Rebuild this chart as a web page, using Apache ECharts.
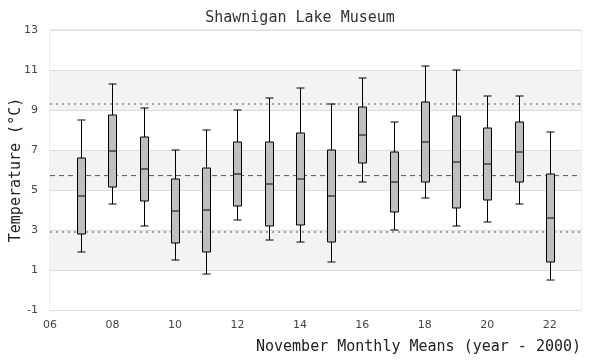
<!DOCTYPE html>
<html>
<head>
<meta charset="utf-8">
<script src="https://cdn.jsdelivr.net/npm/echarts@6/dist/echarts.min.js"></script>
<style>html,body{margin:0;padding:0;background:#fff}#c{width:600px;height:360px}</style>
</head>
<body>
<div id="c"></div>
<script>
// November monthly means, year - 2000
var years   = [7, 8, 9, 10, 11, 12, 13, 14, 15, 16, 17, 18, 19, 20, 21, 22];
var lows    = [1.9, 4.3, 3.2, 1.5, 0.8, 3.5, 2.5, 2.4, 1.4, 5.4, 3.0, 4.6, 3.2, 3.4, 4.3, 0.5];
var q1s     = [2.8, 5.15, 4.45, 2.35, 1.9, 4.2, 3.2, 3.25, 2.4, 6.35, 3.9, 5.4, 4.1, 4.5, 5.4, 1.4];
var medians = [4.7, 6.95, 6.05, 3.95, 4.0, 5.8, 5.3, 5.55, 4.7, 7.75, 5.4, 7.4, 6.4, 6.3, 6.9, 3.6];
var q3s     = [6.6, 8.75, 7.65, 5.55, 6.1, 7.4, 7.4, 7.85, 7.0, 9.15, 6.9, 9.4, 8.7, 8.1, 8.4, 5.8];
var highs   = [8.5, 10.3, 9.1, 7.0, 8.0, 9.0, 9.6, 10.1, 9.3, 10.6, 8.4, 11.2, 11.0, 9.7, 9.7, 7.9];
var meanLine = 5.72;
var upperLine = 9.3;
var lowerLine = 2.9;
var xTicks = [6, 8, 10, 12, 14, 16, 18, 20, 22];
var yTicks = [-1, 1, 3, 5, 7, 9, 11, 13];

var boxData = years.map(function (y, i) {
  return [y, lows[i], q1s[i], medians[i], q3s[i], highs[i]];
});

var chart = echarts.init(document.getElementById('c'), null, {renderer: 'canvas'});
var mono = 'DejaVu Sans Mono';

function refSeries(v, dash) {
  return {
    type: 'line',
    data: [[6, v], [23, v]],
    symbol: 'none',
    silent: true,
    z: 1,
    lineStyle: {color: '#555', width: 1, type: dash}
  };
}

chart.setOption({
  animation: false,
  backgroundColor: '#fff',
  title: {
    text: 'Shawnigan Lake Museum',
    left: 'center',
    top: 6,
    textStyle: {fontFamily: mono, fontSize: 15, fontWeight: 'normal', color: '#333'}
  },
  grid: {left: 50, right: 19, top: 30, bottom: 50, show: true, borderColor: '#ddd', borderWidth: 1,
    backgroundColor: 'transparent', containLabel: false, outerBoundsMode: 'none'},
  xAxis: {
    type: 'value',
    min: 6, max: 23, interval: 2,
    axisLine: {show: false},
    axisTick: {show: false},
    splitLine: {show: false},
    axisLabel: {
      color: '#444', fontFamily: 'DejaVu Sans', fontSize: 11, margin: 10,
      formatter: function (v) { return xTicks.indexOf(v) >= 0 ? (v < 10 ? '0' + v : '' + v) : ''; }
    },
    name: 'November Monthly Means (year - 2000)',
    nameLocation: 'middle',
    nameGap: 30,
    nameMoveOverlap: false,
    nameTextStyle: {fontFamily: mono, fontSize: 15, color: '#222', padding: [0, 0, 0, 206]}
  },
  yAxis: {
    type: 'value',
    min: yTicks[0], max: yTicks[yTicks.length - 1], interval: 2,
    axisLine: {show: false},
    axisTick: {show: false},
    splitLine: {show: true, lineStyle: {color: '#ddd', width: 1}},
    splitArea: {show: true, areaStyle: {color: ['#ffffff', '#f3f3f3']}},
    axisLabel: {color: '#444', fontFamily: 'DejaVu Sans', fontSize: 11, margin: 12},
    name: 'Temperature (°C)',
    nameLocation: 'middle',
    nameGap: 26,
    nameMoveOverlap: false,
    nameTextStyle: {fontFamily: mono, fontSize: 15, color: '#222'}
  },
  series: [
    refSeries(upperLine, [2, 4]),
    refSeries(lowerLine, [2, 4]),
    refSeries(meanLine, [5, 4]),
    {
      type: 'custom',
      z: 5,
      data: boxData,
      encode: {x: 0, y: [1, 2, 3, 4, 5]},
      renderItem: function (params, api) {
        var x = api.value(0);
        var pMin = api.coord([x, api.value(1)]);
        var pQ1 = api.coord([x, api.value(2)]);
        var pMed = api.coord([x, api.value(3)]);
        var pQ3 = api.coord([x, api.value(4)]);
        var pMax = api.coord([x, api.value(5)]);
        var hw = 4;
        var cx = Math.round(pMed[0]) + 0.5;
        var ls = {stroke: '#000', lineWidth: 1};
        return {
          type: 'group',
          children: [
            {type: 'line', shape: {x1: cx, y1: pMax[1], x2: cx, y2: pQ3[1]}, style: ls},
            {type: 'line', shape: {x1: cx, y1: pQ1[1], x2: cx, y2: pMin[1]}, style: ls},
            {type: 'line', shape: {x1: cx - hw, y1: pMax[1], x2: cx + hw, y2: pMax[1]}, style: ls},
            {type: 'line', shape: {x1: cx - hw, y1: pMin[1], x2: cx + hw, y2: pMin[1]}, style: ls},
            {type: 'rect', shape: {x: cx - hw, y: pQ3[1], width: hw * 2, height: pQ1[1] - pQ3[1]},
              style: {fill: '#bfbfbf', stroke: '#000', lineWidth: 1}},
            {type: 'line', shape: {x1: cx - hw, y1: pMed[1], x2: cx + hw, y2: pMed[1]}, style: ls}
          ]
        };
      }
    }
  ]
});
</script>
</body>
</html>
